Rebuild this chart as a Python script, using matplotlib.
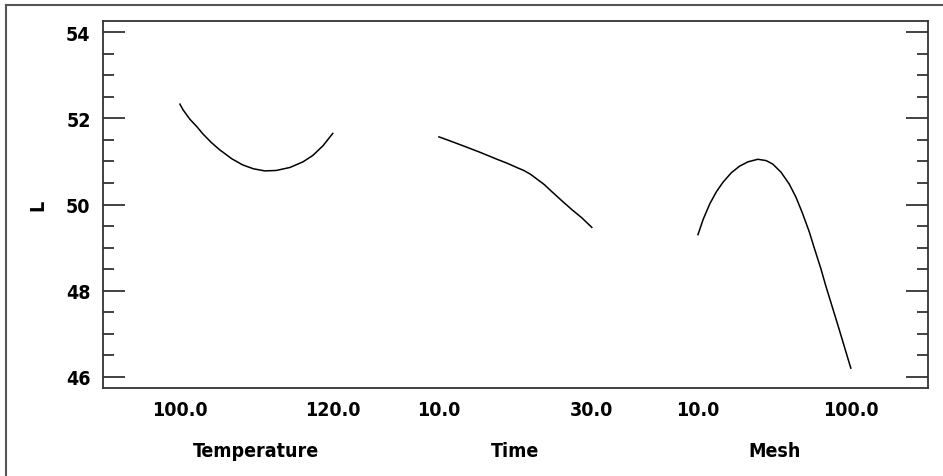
import numpy as np
import matplotlib.pyplot as plt
from matplotlib.lines import Line2D
from matplotlib.transforms import blended_transform_factory

plt.rcParams['font.family'] = ['DejaVu Sans']
plt.rcParams['font.stretch'] = 'condensed'

# main effects
factors = ["Temperature", "Time", "Mesh"]
lo = [100.0, 10.0, 10.0]
hi = [120.0, 30.0, 100.0]
tick_labels = [["100.0", "120.0"], ["10.0", "30.0"], ["10.0", "100.0"]]

temp_x = [100.0, 100.4, 101.3, 102.2, 103.0, 104.1, 105.2, 106.8, 108.2, 109.6,
          111.1, 112.6, 114.4, 116.1, 117.4, 118.7, 120.0]
temp_L = [52.33, 52.20, 51.98, 51.81, 51.64, 51.44, 51.27, 51.06, 50.92, 50.83,
          50.78, 50.79, 50.86, 50.99, 51.14, 51.36, 51.65]

time_x = [10.0, 11.4, 13.2, 15.4, 17.6, 18.9, 20.3, 21.1, 22.0, 22.9, 23.8,
          24.7, 26.0, 27.4, 28.7, 30.0]
time_L = [51.57, 51.48, 51.36, 51.21, 51.05, 50.96, 50.85, 50.79, 50.70, 50.58,
          50.46, 50.31, 50.10, 49.88, 49.69, 49.47]

mesh_x = [10.0, 13.1, 17.0, 20.9, 24.8, 29.7, 34.5, 39.4, 45.2, 50.1, 54.0,
          58.9, 63.8, 67.7, 71.5, 75.5, 78.4, 82.3, 85.2, 93.0, 100.0]
mesh_L = [49.30, 49.66, 50.02, 50.30, 50.52, 50.74, 50.89, 50.99, 51.05, 51.02,
          50.94, 50.75, 50.47, 50.17, 49.80, 49.37, 49.00, 48.52, 48.12, 47.12, 46.20]

curves = [(temp_x, temp_L), (time_x, time_L), (mesh_x, mesh_L)]

span = 0.59  # width of one factor block, in slot units
fig = plt.figure(figsize=(9.43, 4.77), dpi=100)
ax = fig.add_axes([103/943, 88/477, 825/943, 367/477])

ticks, labels = [], []
for i, (x, L) in enumerate(curves):
    pos = i + (np.array(x) - lo[i]) / (hi[i] - lo[i]) * span
    ax.plot(pos, L, color='black', lw=1.1, solid_joinstyle='round')
    ticks += [i, i + span]
    labels += tick_labels[i]

ax.set_xlim(-0.297, 2.888)
ax.set_ylim(45.74, 54.26)
ax.set_xticks(ticks)
ax.set_xticklabels(labels, fontsize=14, fontweight='bold')
ax.tick_params(axis='x', length=0, pad=9)
ax.set_yticks([46, 48, 50, 52, 54])
ax.set_yticks(np.arange(46, 54.01, 0.5), minor=True)
ax.tick_params(axis='y', which='both', direction='in', left=True, right=True,
               color='#222222', width=1.2)
ax.tick_params(axis='y', which='major', length=16, labelsize=14, pad=9)
ax.tick_params(axis='y', which='minor', length=8)
for t in ax.get_yticklabels():
    t.set_fontweight('bold')
for s in ax.spines.values():
    s.set_color('#333333')
    s.set_linewidth(1.3)

ax.set_ylabel("L", fontsize=14, fontweight='bold')
ax.yaxis.set_label_coords(-0.068, 0.5)

tr = blended_transform_factory(ax.transData, ax.transAxes)
for i, name in enumerate(factors):
    ax.text(i + span / 2, -0.17, name, transform=tr, ha='center', va='center',
            fontsize=14, fontweight='bold')

# outer frame (top and left edge)
fig.add_artist(Line2D([6/943, 1], [1 - 6/477, 1 - 6/477], color='#555555', lw=1.5))
fig.add_artist(Line2D([6/943, 6/943], [0, 1 - 6/477], color='#555555', lw=1.5))

fig.savefig("out.png", dpi=100)
